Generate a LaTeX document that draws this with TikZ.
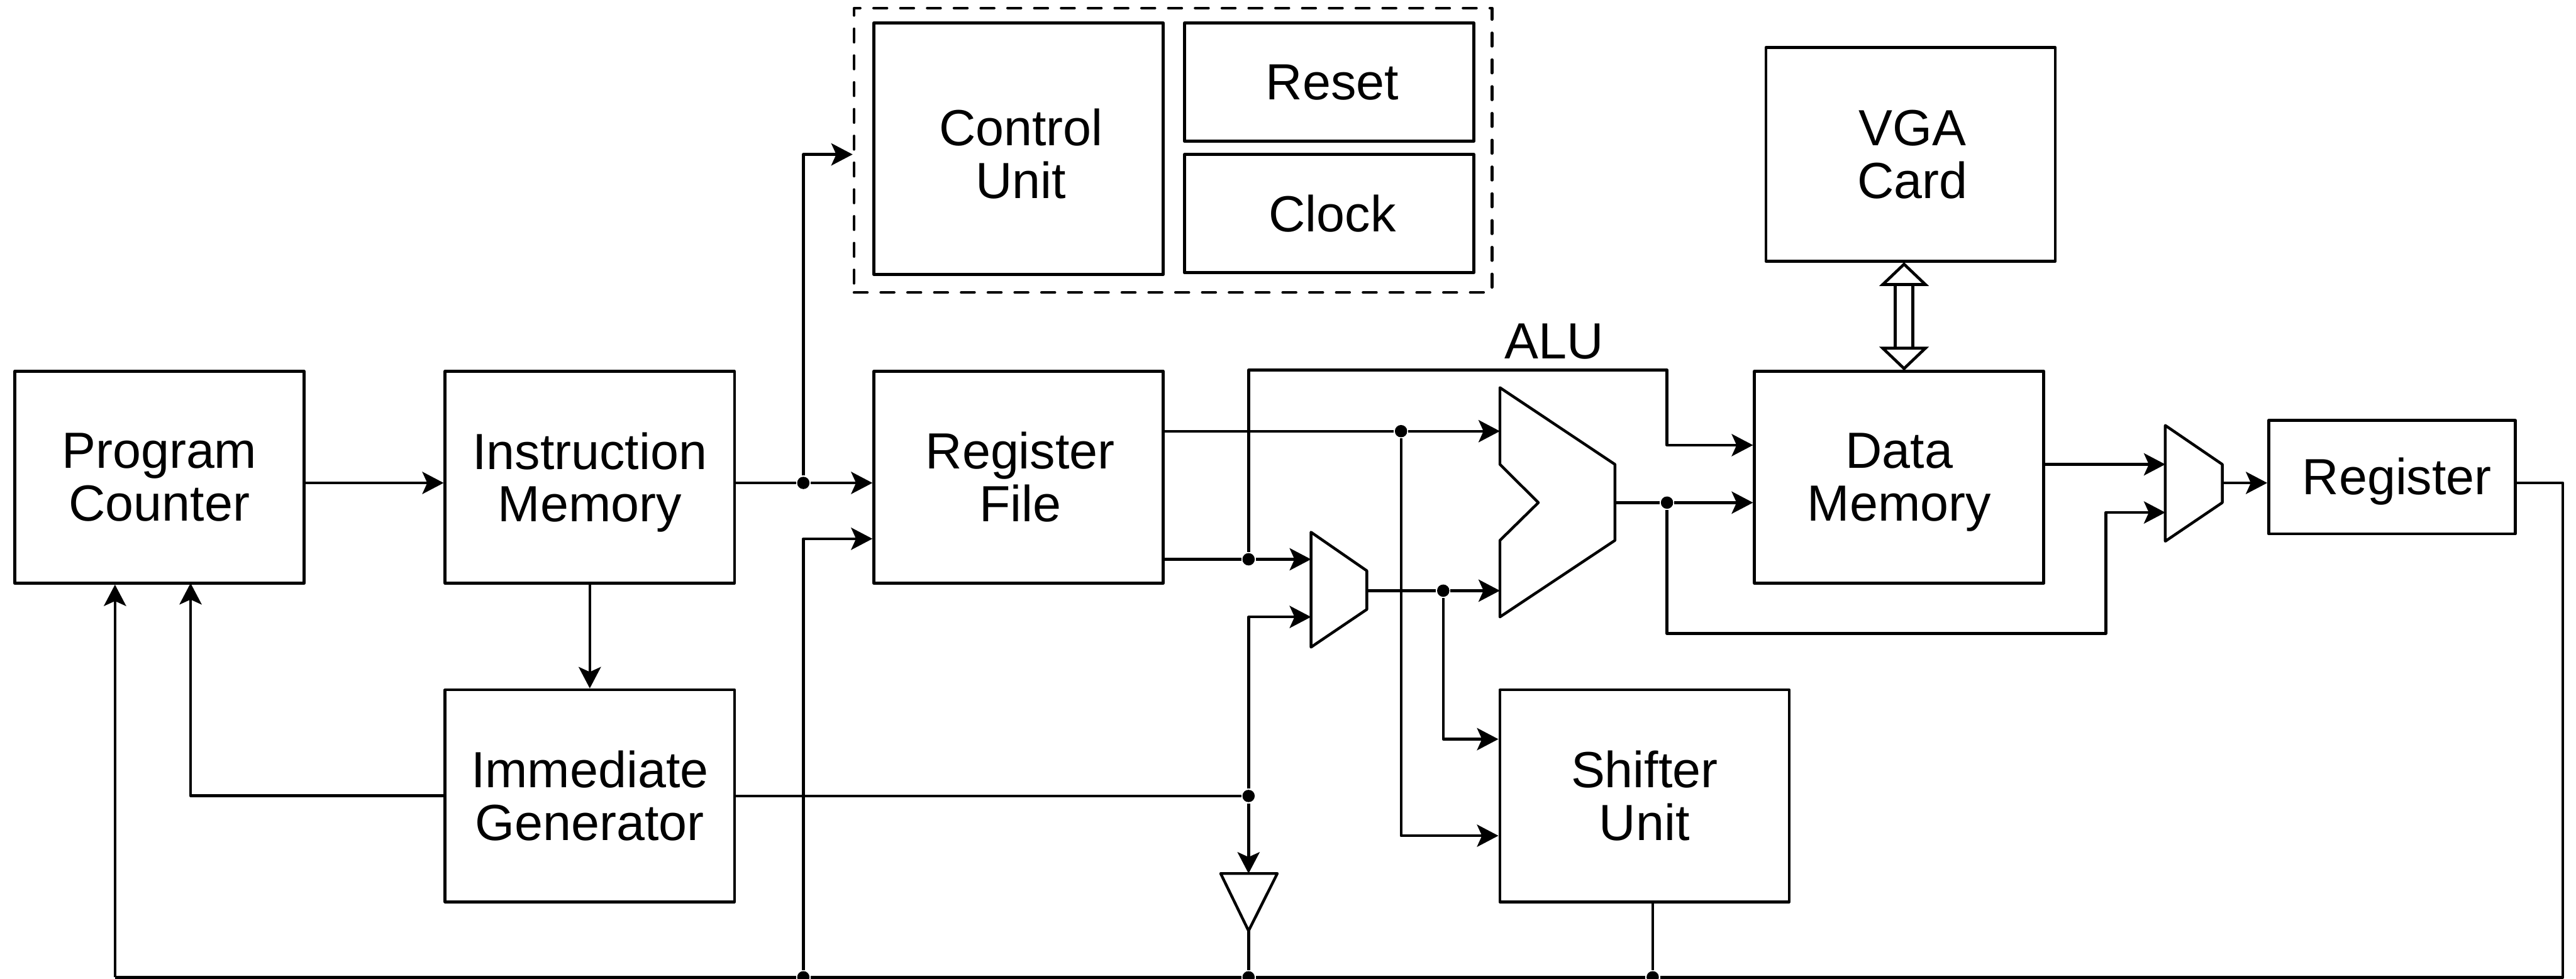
\documentclass[tikz,border=0pt]{standalone}
\usepackage{fontspec}
\setmainfont{Liberation Sans}
\usetikzlibrary{arrows.meta}
\tikzset{
	block/.style={draw,line width=0.5pt,line join=round,inner sep=0pt,align=center,minimum width=1.76cm,minimum height=1.29cm,font=\fontsize{8.8}{9.1}\selectfont},
	wire/.style={line width=0.48pt,line join=round},
	feed/.style={wire,-{Stealth[length=0.13cm,width=0.135cm,inset=0.03cm]}},
	joint/.style={circle,fill=black,inner sep=0pt,minimum size=0.075cm},
	gate/.style={line width=0.48pt,line join=round},
	bus/.style={line width=0.5pt,double,double distance=0.09cm,{Triangle[open,length=0.145cm,width=0.30cm]}-{Triangle[open,length=0.145cm,width=0.30cm]}}
}
\begin{document}
\begin{tikzpicture}[x=0.01cm,y=-0.01cm]
	\useasboundingbox (0,0) rectangle (1568,596);

	\node[block] (pc) at (97,290.5) {Program\\Counter};
	\node[block] (im) at (359,290.5) {Instruction\\\smash{Memory}};
	\node[block] (ig) at (359,484.5) {Immediate\\Generator};
	\node[block] (rf) at (620,290.5) {\hspace*{0.02cm}Register\\\hspace*{0.02cm}File};
	\node[block,minimum height=1.53cm] (cu) at (620,90.5) {\rule{0pt}{0.285cm}\hspace*{0.03cm}Control\\\hspace*{0.03cm}Unit};
	\node[block,minimum height=0.72cm] (rst) at (809,50) {\hspace*{0.04cm}Reset};
	\node[block,minimum height=0.72cm] (clk) at (809,130) {\hspace*{0.04cm}Clock};
	\node[block,minimum height=1.30cm] (vga) at (1163,94) {\hspace*{0.02cm}VGA\\\hspace*{0.02cm}Card};
	\node[block] (dm) at (1156,290.5) {Data\\\smash{Memory}};
	\node[block] (su) at (1001,484.5) {Shifter\\Unit};
	\node[block,minimum width=1.50cm,minimum height=0.69cm] (reg) at (1456,290.5) {\hspace*{0.06cm}\vphantom{R}\smash{Register}};
	\node[font=\fontsize{8.8}{9.1}\selectfont] (alulabel) at (946,208) {ALU};

	% control group
	\node[draw,line width=0.5pt,line cap=round,line join=round,dash pattern=on 0.08cm off 0.083cm,inner sep=0pt,minimum width=3.88cm,minimum height=1.73cm] (ctrl) at (714,91.5) {};

	% alu and the two muxes
	\draw[gate] (913,236) -- (983,282.7) -- (983,329) -- (913,375.6) -- (913,329) -- (936.4,306) -- (913,282.7) -- cycle;
	\draw[gate] (798,324) -- (832,347.5) -- (832,371) -- (798,394) -- cycle;
	\draw[gate] (1318,259) -- (1352.7,282.7) -- (1352.7,306) -- (1318,329.5) -- cycle;
	\draw[gate] (743,531.8) -- (777.5,531.8) -- (760,566.7) -- cycle;

	\coordinate (aluin1) at (913,262.5);
	\coordinate (aluin2) at (913,359.6);
	\coordinate (aluout) at (983,306);
	\coordinate (muxin1) at (798,340.5);
	\coordinate (muxin2) at (798,375.6);
	\coordinate (muxout) at (832,359.6);
	\coordinate (resin1) at (1318,282.7);
	\coordinate (resin2) at (1318,312);
	\coordinate (resout) at (1352.7,294);
	\coordinate (buftop) at (760,531.8);
	\coordinate (bufend) at (760,566.7);
	\coordinate (busbot) at (70,595);
	\coordinate (vgaport) at (1159,159.6);
	\coordinate (dmport) at (1159,225.6);

	\node[joint] (j1) at (489,294) {};
	\node[joint] (j2) at (760,340.5) {};
	\node[joint] (j3) at (852.8,262.5) {};
	\node[joint] (j4) at (878.5,359.6) {};
	\node[joint] (j5) at (1014.7,306) {};
	\node[joint] (j6) at (760,484.6) {};
	\node[joint] (j7) at (489,595) {};
	\node[joint] (j8) at (760,595) {};
	\node[joint] (j9) at (1006,595) {};

	\draw[feed] (pc.east |- j1) -- (im.west |- j1);
	\draw[wire] (im.east |- j1) -- (j1);
	\draw[feed] (j1) -- (rf.west |- j1);
	\draw[feed] (j1) |- (ctrl.west |- 0,94);
	\draw[feed] (im.south) -- (ig.north);
	\draw[feed] (ig.west) -| (116,355);
	\draw[wire] (ig.east |- j6) -- (j6);
	\draw[feed] (j6) -- (buftop);
	\draw[feed] (j6) |- (muxin2);
	\draw[wire] (bufend) -- (j8);

	\draw[wire] (rf.east |- aluin1) -- (j3);
	\draw[feed] (j3) -- (aluin1);
	\draw[wire] (rf.east |- muxin1) -- (j2);
	\draw[feed] (j2) -- (muxin1);
	\draw[feed] (j2) |- (1014.7,225.3) |- (dm.west |- 0,271);
	\draw[feed] (j3) |- (su.west |- 0,508.8);
	\draw[wire] (muxout) -- (j4);
	\draw[feed] (j4) -- (aluin2);
	\draw[feed] (j4) |- (su.west |- 0,450);
	\draw[wire] (aluout) -- (j5);
	\draw[feed] (j5) -- (dm.west |- j5);
	\draw[feed] (j5) |- (1281.8,385.7) |- (resin2);
	\draw[feed] (dm.east |- resin1) -- (resin1);
	\draw[feed] (resout) -- (reg.west |- resout);
	\draw[bus] (vgaport) -- (dmport);

	% return path along the bottom
	\draw[wire] (reg.east |- resout) -| (1560,595) -- (j9);
	\draw[wire] (j9) -- (j8);
	\draw[wire] (j8) -- (j7);
	\draw[wire] (j7) -- (busbot);
	\draw[feed] (busbot) -- (pc.south -| busbot);
	\draw[feed] (j7) |- (rf.west |- 0,328);
	\draw[wire] (su.south -| j9) -- (j9);
\end{tikzpicture}
\end{document}
